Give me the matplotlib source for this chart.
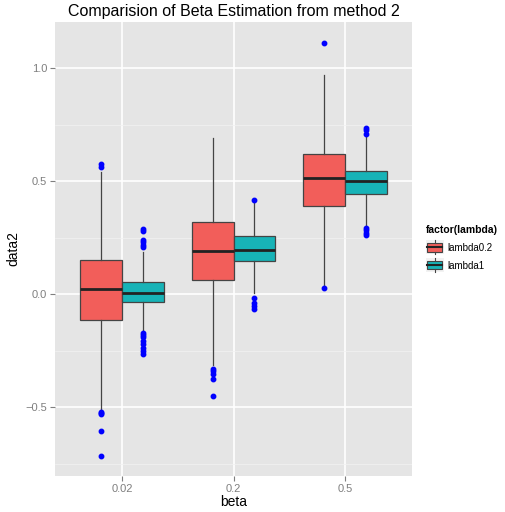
import numpy as np
import matplotlib.pyplot as plt
from matplotlib.patches import Rectangle
from matplotlib.lines import Line2D
from matplotlib.legend_handler import HandlerBase

plt.rcParams['font.family'] = ['Liberation Sans', 'DejaVu Sans']

# beta levels on the x axis
beta_levels = ['0.02', '0.2', '0.5']
lambda_levels = ['lambda0.2', 'lambda1']

# box summaries per beta level: whisker low, Q1, median, Q3, whisker high
lam02_whislo = [-0.51, -0.314, 0.04]
lam02_q1 = [-0.114, 0.066, 0.389]
lam02_med = [0.022, 0.19, 0.515]
lam02_q3 = [0.154, 0.32, 0.619]
lam02_whishi = [0.541, 0.692, 0.969]
lam02_fliers = [
    [-0.52, -0.525, -0.53, -0.603, -0.714, 0.565, 0.575],
    [-0.329, -0.339, -0.354, -0.373, -0.451],
    [0.03, 1.11],
]

lam1_whislo = [-0.165, 0.005, 0.305]
lam1_q1 = [-0.035, 0.149, 0.446]
lam1_med = [0.007, 0.196, 0.5]
lam1_q3 = [0.054, 0.257, 0.544]
lam1_whishi = [0.187, 0.41, 0.70]
lam1_fliers = [
    [-0.17, -0.18, -0.19, -0.205, -0.22, -0.235, -0.25, -0.265,
     0.21, 0.22, 0.23, 0.24, 0.28, 0.29],
    [-0.016, -0.037, -0.049, -0.066, 0.418],
    [0.265, 0.273, 0.283, 0.293, 0.711, 0.726, 0.737],
]

fill_colors = ['#F25E5A', '#17B3B7']
edge = '#444444'
bg = '#E5E5E5'


def make_stats(whislo, q1, med, q3, whishi, fliers):
    stats = []
    for i in range(len(whislo)):
        stats.append(dict(whislo=whislo[i], q1=q1[i], med=med[i], q3=q3[i],
                          whishi=whishi[i], fliers=fliers[i]))
    return stats


series = [
    make_stats(lam02_whislo, lam02_q1, lam02_med, lam02_q3, lam02_whishi, lam02_fliers),
    make_stats(lam1_whislo, lam1_q1, lam1_med, lam1_q3, lam1_whishi, lam1_fliers),
]

fig = plt.figure(figsize=(5.05, 5.12), dpi=100)
ax = fig.add_axes([55 / 505, 1 - 476 / 512, 357 / 505, 454 / 512])
ax.set_facecolor(bg)

x = np.arange(1, len(beta_levels) + 1)
width = 0.375
offsets = [-width / 2, width / 2]

for stats, off, col in zip(series, offsets, fill_colors):
    ax.bxp(stats, positions=x + off, widths=width, patch_artist=True,
           showcaps=False, manage_ticks=False,
           boxprops=dict(facecolor=col, edgecolor=edge, linewidth=0.9),
           whiskerprops=dict(color=edge, linewidth=0.9),
           medianprops=dict(color='#222222', linewidth=2.0),
           flierprops=dict(marker='o', markerfacecolor='blue',
                           markeredgecolor='blue', markersize=3.2),
           zorder=3)

ax.set_xlim(0.4, 3.6)
ax.set_ylim(-0.803, 1.205)
ax.set_xticks(x)
ax.set_xticklabels(beta_levels)
ax.set_yticks([-0.5, 0.0, 0.5, 1.0])
ax.set_yticks([-0.75, -0.25, 0.25, 0.75], minor=True)
ax.set_xticks([], minor=True)

ax.grid(which='major', color='white', linewidth=1.2, zorder=0)
ax.grid(which='minor', axis='y', color='#F2F2F2', linewidth=0.5, zorder=0)
ax.set_axisbelow(True)
for s in ax.spines.values():
    s.set_visible(False)

ax.tick_params(which='major', colors='#7F7F7F', labelsize=8, length=3.5,
               width=0.8, pad=2)
ax.tick_params(which='minor', length=0)

ax.set_xlabel('beta', fontsize=10, labelpad=1)
ax.set_ylabel('data2', fontsize=10, labelpad=4)
ax.set_title('Comparision of Beta Estimation from method 2', fontsize=11.5, pad=4)


class BoxKey(HandlerBase):
    # legend key drawn as a small boxplot glyph on a light tile
    def create_artists(self, legend, orig_handle, xdescent, ydescent,
                       width, height, fontsize, trans):
        col = orig_handle.get_facecolor()
        w = width
        x0 = -xdescent
        yc = -ydescent + height / 2
        hh = fontsize * 0.72
        bgrect = Rectangle((x0, yc - hh), w, 2 * hh,
                           facecolor='#F2F2F2', edgecolor='none', transform=trans)
        bh = hh * 0.62
        box = Rectangle((x0 + w * 0.06, yc - bh), w * 0.88, 2 * bh,
                        facecolor=col, edgecolor=edge, linewidth=0.8, transform=trans)
        cx = x0 + w / 2
        wl = Line2D([cx, cx], [yc - hh, yc - bh], color=edge,
                    linewidth=0.8, transform=trans)
        wh = Line2D([cx, cx], [yc + bh, yc + hh], color=edge,
                    linewidth=0.8, transform=trans)
        med = Line2D([x0 + w * 0.06, x0 + w * 0.94], [yc, yc],
                     color='#222222', linewidth=1.5, transform=trans)
        return [bgrect, box, wl, wh, med]


handles = [Rectangle((0, 0), 1, 1, facecolor=c) for c in fill_colors]
leg = fig.legend(handles, lambda_levels, handler_map={Rectangle: BoxKey()},
                 loc='upper left', bbox_to_anchor=(426 / 505, 1 - 225 / 512),
                 frameon=False, fontsize=7, title='factor(lambda)',
                 title_fontproperties={'weight': 'bold', 'size': 7.5},
                 handlelength=1.8, handletextpad=0.4,
                 labelspacing=0.8, borderaxespad=0, borderpad=0)
leg._legend_box.align = 'left'

fig.savefig('out.png', dpi=100)
